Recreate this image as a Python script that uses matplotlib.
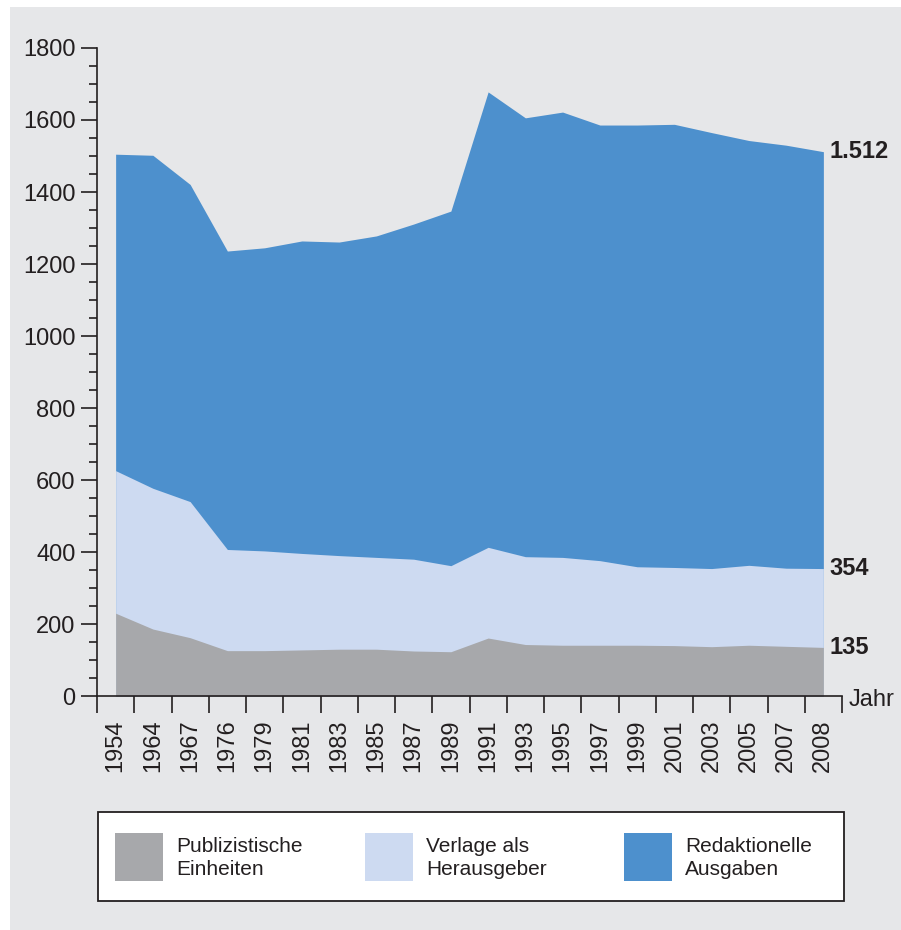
import matplotlib.pyplot as plt
from matplotlib.patches import Rectangle
from matplotlib.ticker import FixedLocator, MultipleLocator

plt.rcParams['font.family'] = ['Liberation Sans Narrow', 'Liberation Sans', 'DejaVu Sans']

jahre = ['1954', '1964', '1967', '1976', '1979', '1981', '1983', '1985', '1987', '1989',
         '1991', '1993', '1995', '1997', '1999', '2001', '2003', '2005', '2007', '2008']
einheiten = [230, 186, 162, 126, 126, 128, 130, 130, 125, 123,
             161, 143, 141, 141, 141, 140, 137, 141, 138, 135]
verlage = [626, 577, 540, 407, 403, 396, 390, 385, 380, 362,
           413, 387, 385, 376, 359, 357, 354, 363, 355, 354]
ausgaben = [1505, 1502, 1421, 1236, 1245, 1264, 1261, 1278, 1311, 1347,
            1678, 1606, 1622, 1586, 1586, 1588, 1565, 1543, 1530, 1512]
namen = ['Publizistische\nEinheiten', 'Verlage als\nHerausgeber', 'Redaktionelle\nAusgaben']

c_grau = '#a7a8ab'
c_hell = '#cddaf1'
c_blau = '#4d90cd'
c_bg = '#e6e7e9'
c_txt = '#231f20'

W, H = 901, 930
fig = plt.figure(figsize=(W / 100, H / 100), dpi=100, facecolor='white')

# background + legend in pixel coords
bg = fig.add_axes([0, 0, 1, 1], zorder=-1)
bg.set_xlim(0, W)
bg.set_ylim(H, 0)
bg.axis('off')
bg.add_patch(Rectangle((10, 7), W - 10, H - 7, color=c_bg, lw=0))
bg.add_patch(Rectangle((98, 812), 746, 89, facecolor='white', edgecolor=c_txt, lw=1.3))
for x0, col, name in zip([115, 365, 624], [c_grau, c_hell, c_blau], namen):
    bg.add_patch(Rectangle((x0, 833), 48, 48, color=col, lw=0))
    bg.text(x0 + 61, 858, name, fontsize=15, color=c_txt, va='center', ha='left',
            linespacing=1.3)

ax = fig.add_axes([97 / W, 1 - 696 / H, 745 / W, 648 / H])
ax.set_facecolor('none')
x = list(range(len(jahre)))
ax.fill_between(x, 0, ausgaben, color=c_blau, lw=0)
ax.fill_between(x, 0, verlage, color=c_hell, lw=0)
ax.fill_between(x, 0, einheiten, color=c_grau, lw=0)

ax.set_xlim(-0.5, len(jahre) - 0.5)
ax.set_ylim(0, 1800)
for s in ['top', 'right']:
    ax.spines[s].set_visible(False)
for s in ['left', 'bottom']:
    ax.spines[s].set_color(c_txt)
    ax.spines[s].set_linewidth(1.2)

ax.xaxis.set_major_locator(FixedLocator([i - 0.5 for i in range(len(jahre) + 1)]))
ax.xaxis.set_minor_locator(FixedLocator(x))
ax.set_xticklabels([], minor=False)
ax.set_xticklabels(jahre, minor=True, rotation=90, fontsize=17, color=c_txt)
ax.tick_params(axis='x', which='major', length=12.5, width=1.2, color=c_txt)
ax.tick_params(axis='x', which='minor', length=0, pad=17)

ax.yaxis.set_major_locator(MultipleLocator(200))
ax.yaxis.set_minor_locator(MultipleLocator(50))
ax.tick_params(axis='y', which='major', length=11.5, width=1.2, color=c_txt,
               labelsize=17, labelcolor=c_txt, pad=4)
ax.tick_params(axis='y', which='minor', length=5.8, width=1.2, color=c_txt)

for val in [ausgaben[-1], verlage[-1], einheiten[-1]]:
    lab = f'{val:,}'.replace(',', '.')
    ax.annotate(lab, xy=(x[-1], val), xytext=(4.5, 0), textcoords='offset points',
                ha='left', va='center', fontsize=17, fontweight='bold', color=c_txt)

ax.annotate('Jahr', xy=(len(jahre) - 0.5, 0), xytext=(4.5, -7.5), textcoords='offset points',
            ha='left', va='baseline', fontsize=17, color=c_txt)

fig.savefig('out.png', dpi=100, facecolor='white')
